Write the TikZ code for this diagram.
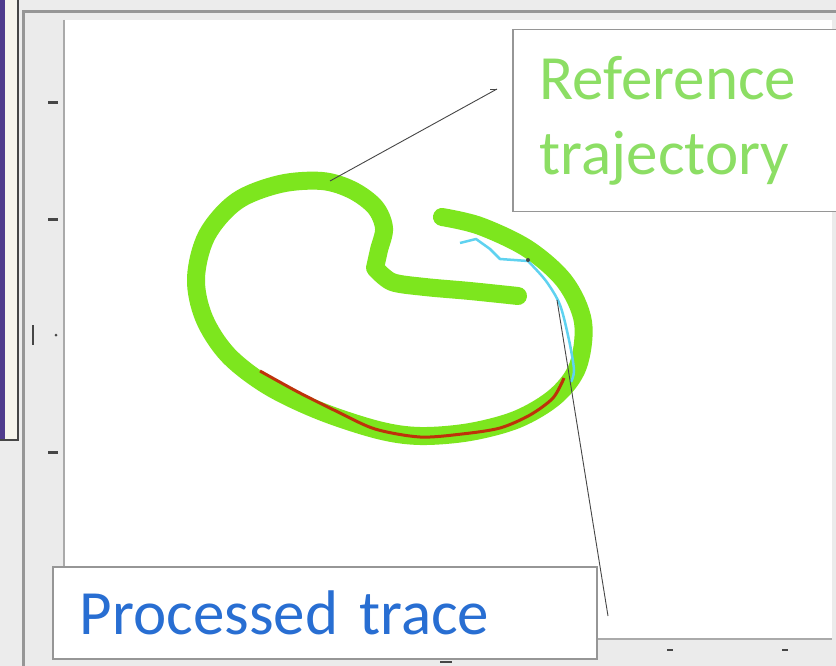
\documentclass[tikz,border=0pt]{standalone}
\usepackage{fontspec}
\setmainfont{Carlito}
\definecolor{bgA}{RGB}{236,236,236}
\definecolor{framegray}{RGB}{150,150,150}
\definecolor{axisgray}{RGB}{170,170,170}
\definecolor{panelpale}{RGB}{246,244,236}
\definecolor{panelpurple}{RGB}{80,60,140}
\definecolor{traj}{RGB}{125,230,30}
\definecolor{reftext}{RGB}{140,222,100}
\definecolor{proctext}{RGB}{40,110,210}
\definecolor{redtrace}{RGB}{190,50,10}
\definecolor{cyantrace}{RGB}{95,210,240}
\definecolor{leader}{RGB}{70,70,70}
\tikzset{
  labelbox/.style={draw=framegray, line width=1.5pt, fill=white, inner sep=0pt, font=\fontsize{63}{75}\selectfont},
  leaderline/.style={draw=leader, line width=0.9pt},
  ytick/.style={draw=leader, line width=3pt},
}
\begin{document}
\begin{tikzpicture}[x=1pt,y=-1pt]
\useasboundingbox (0,0) rectangle (836,666);
\fill[bgA] (0,0) rectangle (836,666);
% left side panel
\fill[panelpale] (0,0) rectangle (18,440);
\fill[panelpurple] (0,0) rectangle (5,440);
\draw[leader, line width=2pt] (18,0) -- (18,440) -- (0,440);
% window frame
\fill[white!92!black] (24,13) rectangle (836,666);
\draw[framegray, line width=3pt] (23,666) -- (23,12) -- (836,12);
\fill[white] (64,20) rectangle (832,639);
\draw[axisgray, line width=1.5pt] (64,20) -- (64,639) -- (832,639);
% y ticks
\foreach \yy in {103,220,452} \draw[ytick] (48,\yy) -- (58,\yy);
\fill[leader] (56,335) circle (1.5pt);
\draw[leader, line width=2pt] (33,325) -- (33,345);
% x tick marks
\draw[leader, line width=1.5pt] (667,650) -- (673,650);
\draw[leader, line width=1.5pt] (782,650) -- (788,650);
\draw[leader, line width=1.5pt] (440,662) -- (452,662);
% reference trajectory
\draw[traj, line width=18pt, line cap=round, line join=round]
  plot[smooth, tension=0.55] coordinates {
   (442,217) (480,226) (528,249) (565,282) (583,322) (578,366) (556,396)
   (518,419) (470,432) (420,436) (378,430) (320,411) (268,386) (228,355)
   (204,318) (196,278) (207,235) (237,201) (280,184) (322,181) (352,190)
   (375,207) (384,228) (379,250) (375,268)}
  -- plot[smooth, tension=0.5] coordinates {(375,268) (392,282) (425,287) (470,291) (518,296)};
% processed (red) trace
\draw[redtrace, line width=3pt, line join=round]
  plot[smooth, tension=0.5] coordinates {
   (260,371) (298,392) (338,412) (375,429) (420,437) (462,434)
   (500,428) (530,415) (553,398) (564,378)};
% cyan trace
\draw[cyantrace, line width=2.5pt, line join=round]
  plot coordinates {(460,243) (476,239) (490,249) (500,259) (528,261)}
  -- plot[smooth, tension=0.5] coordinates {(528,261) (546,281) (560,305) (569,340) (574,370) (571,382)};
% label boxes
\node[labelbox, text=reftext, anchor=north west, minimum width=330pt, minimum height=182pt, align=left, text width=310pt]
  (refbox) at (512,29) {\hspace*{17pt}Reference\\\hspace*{17pt}trajectory};
\node[labelbox, text=proctext, anchor=north west, minimum width=544pt, minimum height=92pt, align=left, text width=530pt]
  (procbox) at (52,566) {\hspace*{20pt}Processed trace};
% leaders
\coordinate (refknee) at (497,89);
\coordinate (refend) at (490,89);
\coordinate (refpt) at (330,181);
\draw[leaderline] (refend) -- (refknee);
\draw[leaderline] (refknee) -- (refpt);
\coordinate (procpt) at (557,300);
\coordinate (procend) at (608,616);
\draw[leaderline] (procend) -- (procpt);
\fill[leader] (528,260) circle (2pt);
\end{tikzpicture}
\end{document}
